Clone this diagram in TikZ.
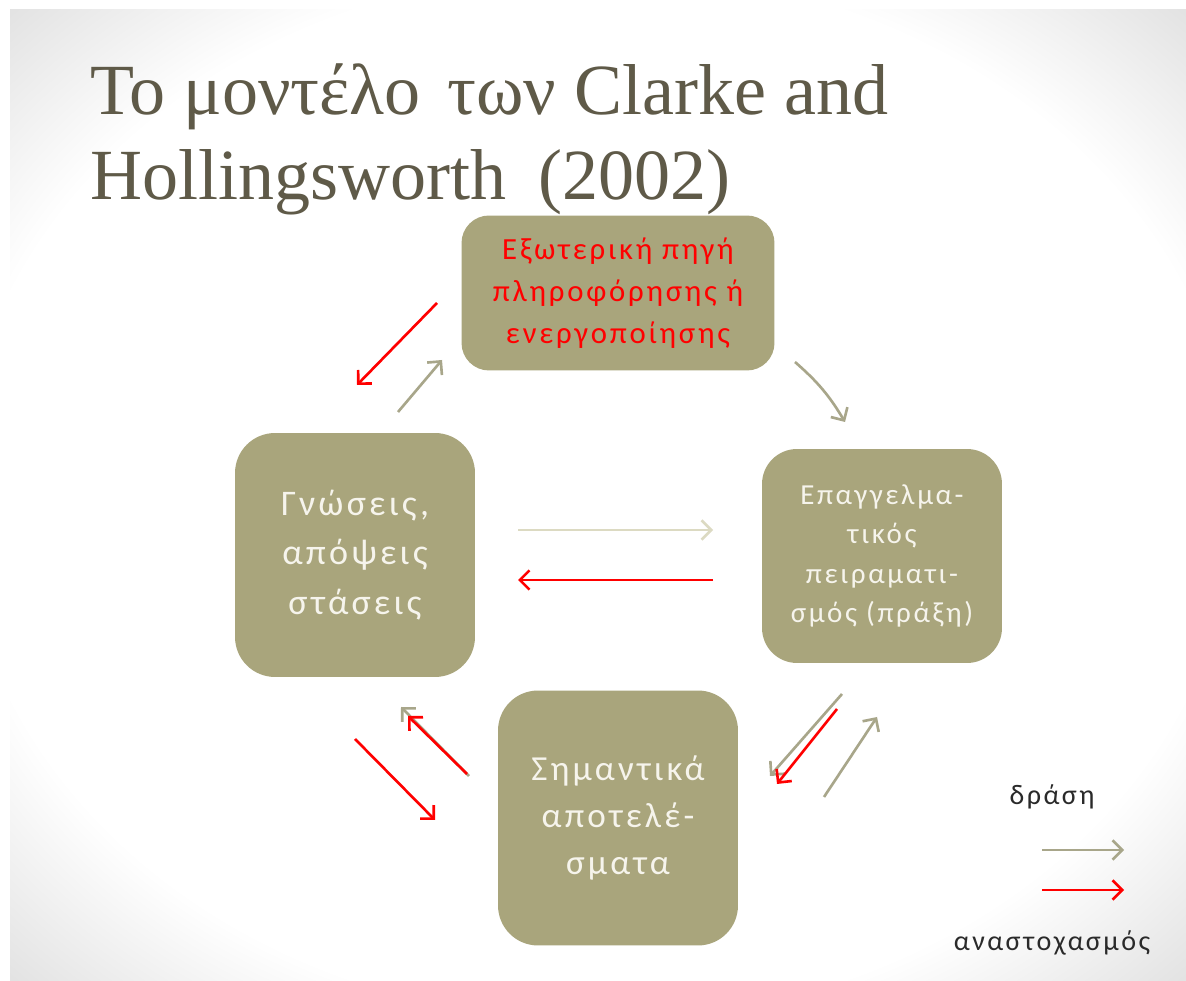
\documentclass[tikz,border=0pt]{standalone}
\usepackage{fontspec}
\setmainfont{Liberation Serif}
\newfontfamily\boxfont[LetterSpace=9]{Carlito}
\usetikzlibrary{arrows.meta}
\definecolor{olivebox}{HTML}{A9A57C}
\definecolor{khaki}{HTML}{A8A68A}
\definecolor{palekhaki}{HTML}{DCDAC2}
\definecolor{titlegray}{HTML}{5F5A48}
\definecolor{boxtext}{HTML}{F6F4EC}
\definecolor{legendtext}{HTML}{2A2A2A}
\pgfdeclareradialshading{slidebg}{\pgfpoint{0bp}{0bp}}{color(0bp)=(white); color(27bp)=(white); color(36bp)=(black!12); color(50bp)=(black!12)}
\begin{document}
\begin{tikzpicture}[x=0.02cm, y=0.02cm,
  box/.style = {rectangle, fill=olivebox, text=boxtext, align=center, inner sep=0pt, font=\boxfont},
  act/.style = {draw=khaki, line width=1.5pt, -{Straight Barb[length=5.5pt, width=11pt]}},
  refl/.style = {draw=red, line width=1.5pt, -{Straight Barb[length=5.5pt, width=11pt]}},
  lgd/.style = {text=legendtext, font=\boxfont\fontsize{16}{18}\selectfont}]
  \useasboundingbox (0,0) rectangle (1186,980);
  \fill[white] (0,0) rectangle (1186,980);
  \shade[shading=slidebg] (10,0) rectangle (1186,970);

  % title
  \node[anchor=base west, text=titlegray, font=\fontsize{41}{48}\selectfont, inner sep=0pt] (title1) at (90,865) {Το μοντέλο\hspace{0.12em} των Clarke and};
  \node[anchor=base west, text=titlegray, font=\fontsize{41}{48}\selectfont, inner sep=0pt] (title2) at (90,780) {Hollingsworth\hspace{0.45em}(2002)};

  % boxes
  \node[box, rounded corners=0.55cm, minimum width=6.26cm, minimum height=3.1cm, text=red,
        font=\boxfont\fontsize{17.5}{24}\selectfont] (ext) at (618,687)
        {Εξωτερική πηγή\\πληροφόρησης ή\\ενεργοποίησης};
  \node[box, rounded corners=0.8cm, minimum width=4.8cm, minimum height=4.88cm,
        font=\boxfont\fontsize{20.5}{28}\selectfont] (gnos) at (355,425)
        {Γνώσεις,\\απόψεις\\στάσεις};
  \node[box, rounded corners=0.7cm, minimum width=4.8cm, minimum height=4.28cm,
        font=\boxfont\fontsize{16.5}{22.5}\selectfont] (praxi) at (882,424)
        {Επαγγελμα-\\τικός\\πειραματι-\\σμός (πράξη)};
  \node[box, rounded corners=0.8cm, minimum width=4.8cm, minimum height=5.1cm,
        font=\boxfont\fontsize{20}{27}\selectfont] (apot) at (618,162)
        {Σημαντικά\\αποτελέ-\\σματα};

  % arrow ends
  \coordinate (tlR1) at (437,677); \coordinate (tlR2) at (357,595);
  \coordinate (tlA1) at (398,568); \coordinate (tlA2) at (442,620);
  \coordinate (trA1) at (795,618); \coordinate (trA2) at (845,558);
  \coordinate (mA1) at (518,450);  \coordinate (mA2) at (713,450);
  \coordinate (mR1) at (713,400);  \coordinate (mR2) at (518,400);
  \coordinate (blR1) at (355,241); \coordinate (blR2) at (435,160);
  \coordinate (blA1) at (469,204); \coordinate (blA2) at (401,273);
  \coordinate (blR3) at (467,206); \coordinate (blR4) at (408,264);
  \coordinate (brA1) at (842,286); \coordinate (brA2) at (770,204);
  \coordinate (brR1) at (837,271); \coordinate (brR2) at (777,196);
  \coordinate (brA3) at (824,183); \coordinate (brA4) at (877,263);

  \draw[refl] (tlR1) -- (tlR2);
  \draw[act] (tlA1) -- (tlA2);
  \draw[act] (trA1) to[bend left=9] (trA2);
  \draw[act, draw=palekhaki] (mA1) -- (mA2);
  \draw[refl] (mR1) -- (mR2);
  \draw[refl] (blR1) -- (blR2);
  \draw[act] (blA1) -- (blA2);
  \draw[refl] (blR3) -- (blR4);
  \draw[act] (brA1) -- (brA2);
  \draw[refl] (brR1) -- (brR2);
  \draw[act] (brA3) -- (brA4);

  % legend
  \node[lgd] (lgAct) at (1052,183) {δράση};
  \node[lgd] (lgRefl) at (1052,37) {αναστοχασμός};
  \coordinate (lgA1) at (1042,130); \coordinate (lgA2) at (1124,130);
  \coordinate (lgR1) at (1042,90);  \coordinate (lgR2) at (1124,90);
  \draw[act] (lgA1) -- (lgA2);
  \draw[refl] (lgR1) -- (lgR2);
\end{tikzpicture}
\end{document}
